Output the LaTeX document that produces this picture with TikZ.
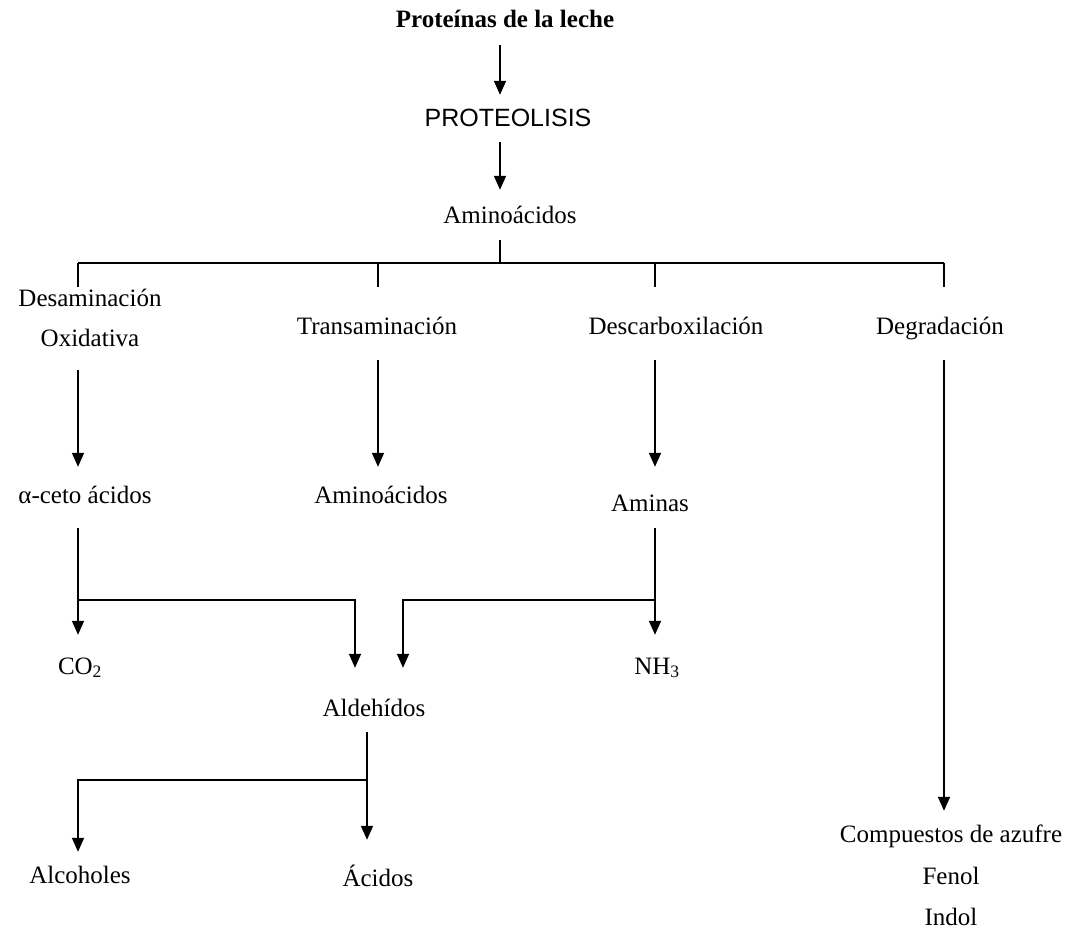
\documentclass[tikz,border=0pt]{standalone}
\usepackage{fontspec}
\setmainfont{Liberation Serif}
\setsansfont{Liberation Sans}
\usepackage{tikz}
\usetikzlibrary{arrows.meta, calc}

\begin{document}
\begin{tikzpicture}[x=1pt, y=-1pt,
  lbl/.style={inner sep=0pt, text height=17pt, text depth=5pt,
              font=\fontsize{25}{29}\selectfont},
  title/.style={lbl, font=\fontsize{25}{29}\selectfont\bfseries},
  caps lbl/.style={lbl, font=\fontsize{25}{29}\selectfont\sffamily},
  link/.style={line width=1.8pt},
  arrow/.style={link, -{Triangle[length=14pt, width=12pt]}},
]
\useasboundingbox (0,0) rectangle (1067,931);
% columns and junctions
\coordinate (spine) at (500,0);
\coordinate (c1) at (78,0);
\coordinate (c2) at (378,0);
\coordinate (c3) at (655,0);
\coordinate (c4) at (944,0);
\coordinate (bus) at (500,263);
\coordinate (ka) at (355,600);
\coordinate (kb) at (403,600);
\coordinate (kc) at (367,780);
% nodes
\node[title]    (prot)    at (505,22)  {Proteínas de la leche};
\node[caps lbl] (proteo)  at (508,120) {PROTEOLISIS};
\node[lbl]      (amino)   at (510,217) {Aminoácidos};
\node[lbl]      (desam)   at (90,300)  {Desaminación};
\node[lbl]      (oxid)    at (90,340)  {Oxidativa};
\node[lbl]      (trans)   at (377,328) {Transaminación};
\node[lbl]      (descarb) at (676,328) {Descarboxilación};
\node[lbl]      (degrad)  at (940,328) {Degradación};
\node[lbl]      (aceto)   at (85,497)  {α-ceto ácidos};
\node[lbl]      (amino2)  at (381,497) {Aminoácidos};
\node[lbl]      (aminas)  at (650,505) {Aminas};
\node[lbl]      (co2)     at (80,668)  {CO\textsubscript{2}};
\node[lbl]      (nh3)     at (657,668) {NH\textsubscript{3}};
\node[lbl]      (aldeh)   at (374,710) {Aldehídos};
\node[lbl]      (alcoh)   at (80,877)  {Alcoholes};
\node[lbl]      (acidos)  at (378,880) {Ácidos};
\node[lbl]      (comp)    at (951,836) {Compuestos de azufre};
\node[lbl]      (fenol)   at (951,878) {Fenol};
\node[lbl]      (indol)   at (951,919) {Indol};
% main chain
\draw[arrow, shorten <=12pt, shorten >=14pt] (prot.south -| spine) -- (proteo.north -| spine);
\draw[arrow, shorten <=11pt, shorten >=16pt] (proteo.south -| spine) -- (amino.north -| spine);
\draw[link, shorten <=12pt] (amino.south -| spine) -- (bus);
\draw[link] (c1 |- bus) -- (c4 |- bus);
\foreach \c in {c1,c2,c3,c4}
  \draw[link] (\c |- bus) -- ++(0,24);
% branches
\draw[arrow, shorten <=19pt, shorten >=19pt] (c1 |- oxid.south) -- (c1 |- aceto.north);
\draw[arrow, shorten <=21pt, shorten >=19pt] (c2 |- trans.south) -- (c2 |- amino2.north);
\draw[arrow, shorten <=21pt, shorten >=27pt] (c3 |- descarb.south) -- (c3 |- aminas.north);
\draw[arrow, shorten <=21pt, shorten >=14pt] (c4 |- degrad.south) -- (c4 |- comp.north);
\draw[arrow, shorten <=20pt, shorten >=22pt] (c1 |- aceto.south) -- (c1 |- co2.north);
\draw[arrow, shorten >=31pt] (c1 |- ka) -- (ka) -- (ka |- aldeh.north);
\draw[arrow, shorten <=12pt, shorten >=22pt] (c3 |- aminas.south) -- (c3 |- nh3.north);
\draw[arrow, shorten >=31pt] (c3 |- kb) -- (kb) -- (kb |- aldeh.north);
\draw[arrow, shorten <=11pt, shorten >=29pt] (kc |- aldeh.south) -- (kc |- acidos.north);
\draw[arrow, shorten >=14pt] (kc) -- (c1 |- kc) -- (c1 |- alcoh.north);
\end{tikzpicture}
\end{document}
